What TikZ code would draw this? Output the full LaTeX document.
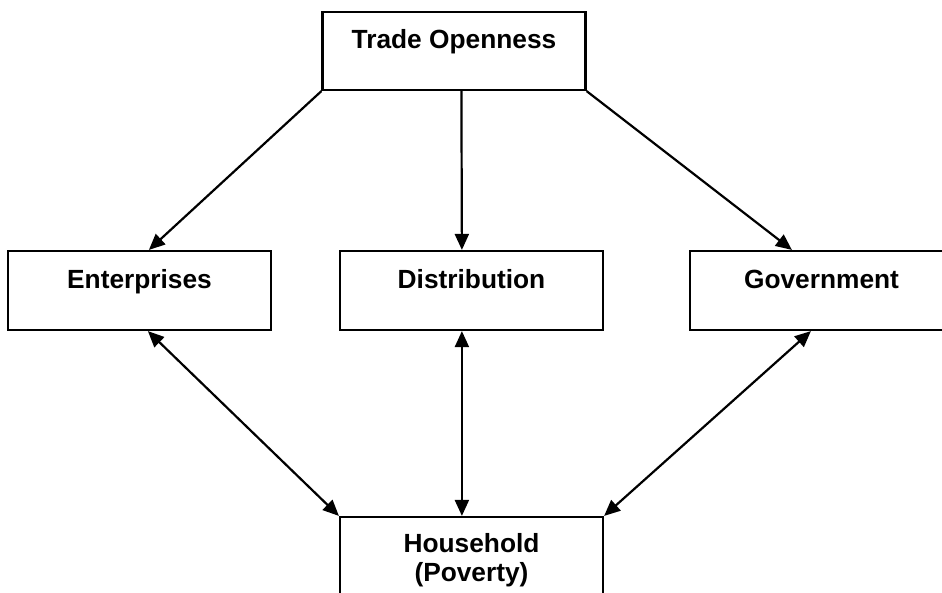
\documentclass[tikz,border=0pt]{standalone}
\usepackage{fontspec}
\setmainfont{Liberation Sans}
\usetikzlibrary{arrows.meta,calc}
\begin{document}
\begin{tikzpicture}[x=1pt,y=-1pt,
  box/.style={draw=black,line width=2.2pt,rectangle,inner sep=0pt,minimum width=263pt,minimum height=79pt},
  txt/.style={font=\fontsize{26.3}{30}\selectfont\bfseries,inner sep=0pt,anchor=base},
  tip/.style={Triangle[length=16pt,width=14pt]},
  arr/.style={line width=2.2pt,-{Triangle[length=16pt,width=14pt]}},
  darr/.style={line width=2.2pt,{Triangle[length=16pt,width=14pt]}-{Triangle[length=16pt,width=14pt]}}]
\useasboundingbox (0,0) rectangle (942,592);
\begin{scope}
\clip (0,0) rectangle (942,592);
\node[box,minimum height=78pt] (trade) at (454,51) {};
\node[box] (ent) at (139.5,290.5) {};
\node[box] (dist) at (471.5,290.5) {};
\node[box] (gov) at (821.5,290.5) {};
\node[box] (hh) at (471.5,556.5) {};
\end{scope}
\node[txt] (ttrade) at (454,48) {Trade Openness};
\node[txt] (tent) at (139.5,288) {Enterprises};
\node[txt] (tdist) at (471.5,288) {Distribution};
\node[txt] (tgov) at (821.5,288) {Government};
\node[txt] (thh1) at (471.5,552) {Household};
\node[txt] (thh2) at (471.5,581) {(Poverty)};
\draw[arr] (trade.south west) -- ($(ent.north west)+(142,0)$);
\draw[arr] ($(trade.south west)+(140,0)$) -- ($(dist.north west)+(123,0)$);
\draw[arr] (trade.south east) -- ($(gov.north west)+(103,0)$);
\draw[darr] ($(ent.south west)+(141,0)$) -- (hh.north west);
\draw[darr] ($(dist.south west)+(123,0)$) -- ($(hh.north west)+(123,0)$);
\draw[darr] ($(gov.south west)+(122,0)$) -- (hh.north east);
\end{tikzpicture}
\end{document}
